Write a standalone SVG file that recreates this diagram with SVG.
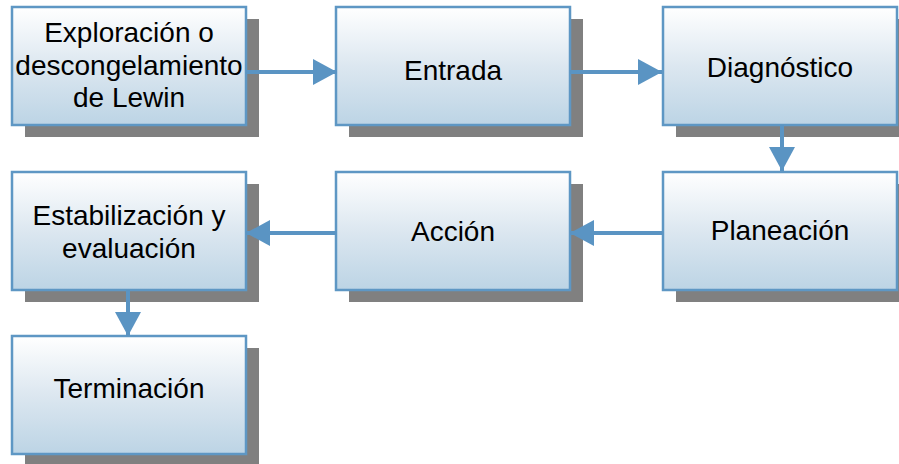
<svg xmlns="http://www.w3.org/2000/svg" width="899" height="464" viewBox="0 0 899 464">
<defs>
<linearGradient id="g" x1="0" y1="0" x2="0" y2="1">
<stop offset="0" stop-color="#FFFFFF"/>
<stop offset="0.5" stop-color="#DCE7F0"/>
<stop offset="1" stop-color="#BCD4E5"/>
</linearGradient>
<marker id="ah" markerWidth="24" markerHeight="26" refX="24" refY="13" orient="auto" markerUnits="userSpaceOnUse">
<path d="M0,0 L24,13 L0,26 Z" fill="#5A94C3"/>
</marker>
</defs>
<style>
.sh{fill:#808080}
.bx{fill:url(#g);stroke:#5E97C4;stroke-width:2.5}
.t{font-family:"Liberation Sans",Arial,sans-serif;font-size:28px;fill:#000;text-anchor:middle}
.c{stroke:#5A94C3;stroke-width:4;fill:none;marker-end:url(#ah)}
</style>
<g id="n1"><rect class="sh" x="25" y="19" width="234" height="118"/><rect class="bx" x="12" y="7" width="234" height="118"/><text class="t" x="129" y="42">Exploración o</text><text class="t" x="129" y="75">descongelamiento</text><text class="t" x="129" y="107">de Lewin</text></g>
<g id="n2"><rect class="sh" x="349" y="19" width="234" height="118"/><rect class="bx" x="336" y="7" width="234" height="118"/><text class="t" x="453" y="80">Entrada</text></g>
<g id="n3"><rect class="sh" x="676" y="19" width="234" height="118"/><rect class="bx" x="663" y="7" width="234" height="118"/><text class="t" x="780" y="77">Diagnóstico</text></g>
<g id="n4"><rect class="sh" x="676" y="184" width="234" height="118"/><rect class="bx" x="663" y="172" width="234" height="118"/><text class="t" x="780" y="240">Planeación</text></g>
<g id="n5"><rect class="sh" x="349" y="184" width="234" height="118"/><rect class="bx" x="336" y="172" width="234" height="118"/><text class="t" x="453" y="241">Acción</text></g>
<g id="n6"><rect class="sh" x="25" y="184" width="234" height="118"/><rect class="bx" x="12" y="172" width="234" height="118"/><text class="t" x="129" y="225">Estabilización y</text><text class="t" x="129" y="258">evaluación</text></g>
<g id="n7"><rect class="sh" x="25" y="348" width="234" height="118"/><rect class="bx" x="12" y="336" width="234" height="118"/><text class="t" x="129" y="398">Terminación</text></g>
<g id="connectors">
<line class="c" x1="246" y1="72" x2="337" y2="72"/>
<line class="c" x1="570" y1="72" x2="662" y2="72"/>
<line class="c" x1="782" y1="125" x2="782" y2="171"/>
<line class="c" x1="663" y1="233" x2="570" y2="233"/>
<line class="c" x1="336" y1="233" x2="246" y2="233"/>
<line class="c" x1="128" y1="290" x2="128" y2="336"/>
</g>
</svg>
